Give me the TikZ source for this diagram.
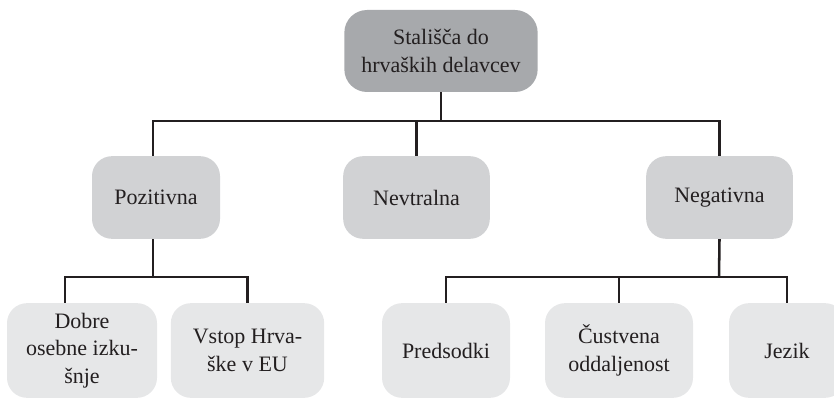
\documentclass[tikz,border=0pt]{standalone}
\usepackage{fontspec}
\setmainfont{Liberation Serif}
\usepackage{tikz}
\usetikzlibrary{positioning, calc}
\definecolor{rootgray}{RGB}{167,169,172}
\definecolor{midgray}{RGB}{209,210,212}
\definecolor{leafgray}{RGB}{230,231,232}
\definecolor{inkdark}{RGB}{35,31,32}

\begin{document}
\begin{tikzpicture}[
    x=0.75pt, y=-0.75pt,
    box/.style={rounded corners=15pt, align=center, text=inkdark, inner sep=2pt,
        font=\fontsize{16.5}{20.5}\selectfont},
    rootbox/.style={box, fill=rootgray, minimum width=145pt, minimum height=61.5pt, rounded corners=17pt},
    midbox/.style={box, fill=midgray, minimum height=62pt},
    leafbox/.style={box, fill=leafgray, minimum height=71pt},
    conn/.style={draw=inkdark, line width=1.9pt}
]
    \clip (0,0) rectangle (834,399);

    % Root
    \node[rootbox] (root) at (441,51) {Stališča do\\hrvaških delavcev};

    % Second level
    \node[midbox, minimum width=96pt] (pos) at (156,197.5) {Pozitivna};
    \node[midbox, minimum width=110pt] (neu) at (416.5,197.5) {Nevtralna};
    \node[midbox, minimum width=110pt] (neg) at (719.5,197.5) {Negativna};

    % Third level
    \node[leafbox, minimum width=112.5pt] (dobre) at (82,350.5) {Dobre\\osebne izku-\\šnje};
    \node[leafbox, minimum width=115pt] (vstop) at (247.5,350.5) {Vstop Hrva-\\ške v EU};
    \node[leafbox, minimum width=96pt] (pred) at (446,350.5) {Predsodki};
    \node[leafbox, minimum width=111pt] (cust) at (619,350.5) {Čustvena\\oddaljenost};
    \node[leafbox, minimum width=87pt] (jezik) at (787,350.5) {Jezik};

    % Connectors
    \coordinate (busA) at (441,121);
    \coordinate (busB) at (153,277);
    \coordinate (busC) at (719,277);

    \draw[conn] (root.south) -- (busA);
    \draw[conn] ([xshift=-2.25pt]pos.north) |- (busA) -| (neg.north);
    \draw[conn] (neu.north) -- (neu.north |- busA);

    \draw[conn] ([xshift=-2.25pt]pos.south) -- (busB);
    \draw[conn] ([xshift=-12.75pt]dobre.north) |- (busB) -| (vstop.north);

    \draw[conn] (neg.south) -- (busC);
    \draw[conn] (pred.north) |- (busC) -| (jezik.north);
    \draw[conn] (cust.north) -- (cust.north |- busC);
\end{tikzpicture}
\end{document}
